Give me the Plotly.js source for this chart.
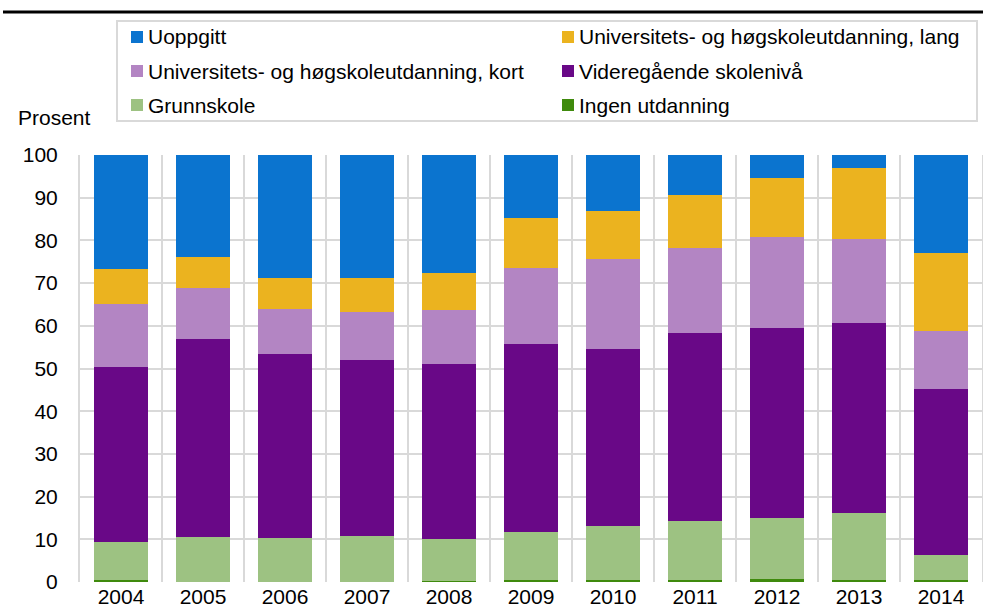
<!DOCTYPE html>
<html>
<head>
<meta charset="utf-8">
<script src="https://cdn.plot.ly/plotly-3.0.1.min.js"></script>
<style>html,body{margin:0;padding:0;background:#fff}#chart{width:983px;height:614px}</style>
</head>
<body>
<div id="chart"></div>
<script>
var years = ["2004","2005","2006","2007","2008","2009","2010","2011","2012","2013","2014"];
var ingenUtdanning = [0.4,0.1,0.1,0.1,0.2,0.4,0.5,0.5,0.7,0.5,0.4];
var grunnskole     = [9.0,10.4,10.1,10.7,9.8,11.3,12.6,13.9,14.3,15.7,5.9];
var videregaende   = [41.0,46.4,43.2,41.2,41.0,44.0,41.5,43.8,44.5,44.5,38.9];
var uniKort        = [14.8,12.0,10.5,11.3,12.6,17.9,21.0,20.1,21.3,19.6,13.6];
var uniLang        = [8.2,7.1,7.2,8.0,8.7,11.6,11.4,12.3,13.7,16.7,18.3];
var uoppgitt       = [26.6,24.0,28.9,28.7,27.7,14.8,13.0,9.4,5.5,3.0,22.9];

var seriesNames = ["Ingen utdanning","Grunnskole","Videregående skolenivå","Universitets- og høgskoleutdanning, kort","Universitets- og høgskoleutdanning, lang","Uoppgitt"];
var seriesValues = [ingenUtdanning, grunnskole, videregaende, uniKort, uniLang, uoppgitt];
var seriesColors = ["#3f8a0d","#9dc282","#690887","#b385c3","#ebb31f","#0b74cf"];
var yTicks = [0,10,20,30,40,50,60,70,80,90,100];
var yTitle = "Prosent";

var FONT = "Liberation Sans, Arial, sans-serif";
var L = 80, R = 982, T = 155, B = 582;
function px(x){ return (x - L) / (R - L); }
function py(y){ return (B - y) / (B - T); }

var traces = seriesNames.map(function(n, i){
  return {type:"bar", name:n, x:years, y:seriesValues[i],
          marker:{color:seriesColors[i], line:{width:0}}, showlegend:false, hoverinfo:"x+y+name"};
});

// manual legend: reading order rows
var legendOrder = [5,4,3,2,1,0];
var colX = [131, 562];
var rowY = [37, 71, 105];
var shapes = [
  {type:"rect", xref:"paper", yref:"paper", x0:px(117), x1:px(977), y0:py(21), y1:py(121),
   line:{color:"#d9d9d9", width:2}, fillcolor:"rgba(0,0,0,0)"},
  {type:"line", xref:"paper", yref:"paper", x0:px(3), x1:px(983), y0:py(12), y1:py(12),
   line:{color:"#000", width:3}}
];
var annotations = [
  {xref:"paper", yref:"paper", x:px(16), y:py(118), xanchor:"left", yanchor:"middle",
   text:yTitle, showarrow:false, font:{family:FONT, size:21, color:"#000"}}
];
legendOrder.forEach(function(si, k){
  var cx = colX[k % 2], cy = rowY[Math.floor(k / 2)];
  shapes.push({type:"rect", xref:"paper", yref:"paper", x0:px(cx), x1:px(cx+12), y0:py(cy-6), y1:py(cy+6),
               line:{width:0}, fillcolor:seriesColors[si]});
  annotations.push({xref:"paper", yref:"paper", x:px(cx+15), y:py(cy), xanchor:"left", yanchor:"middle",
                    text:seriesNames[si], showarrow:false, font:{family:FONT, size:21, color:"#000"}});
});

var layout = {
  width:983, height:614,
  margin:{l:L, r:983-R, t:T, b:614-B, pad:0},
  paper_bgcolor:"#fff", plot_bgcolor:"#fff",
  barmode:"stack", bargap:0.33,
  font:{family:FONT, size:21, color:"#000"},
  xaxis:{type:"category", tickson:"boundaries", showgrid:true, gridcolor:"#d9d9d9", gridwidth:2,
         ticks:"", showline:false, zeroline:false, tickfont:{family:FONT, size:21, color:"#000"},
         fixedrange:true},
  yaxis:{range:[0,100], tickvals:yTicks, showgrid:true, gridcolor:"#d9d9d9", gridwidth:2,
         showline:true, mirror:true, linecolor:"#d9d9d9", linewidth:2, zeroline:false, ticks:"",
         ticklabelstandoff:16, tickfont:{family:FONT, size:21, color:"#000"}, fixedrange:true},
  shapes:shapes, annotations:annotations, showlegend:false
};
Plotly.newPlot("chart", traces, layout, {displayModeBar:false, staticPlot:true});
</script>
</body>
</html>
